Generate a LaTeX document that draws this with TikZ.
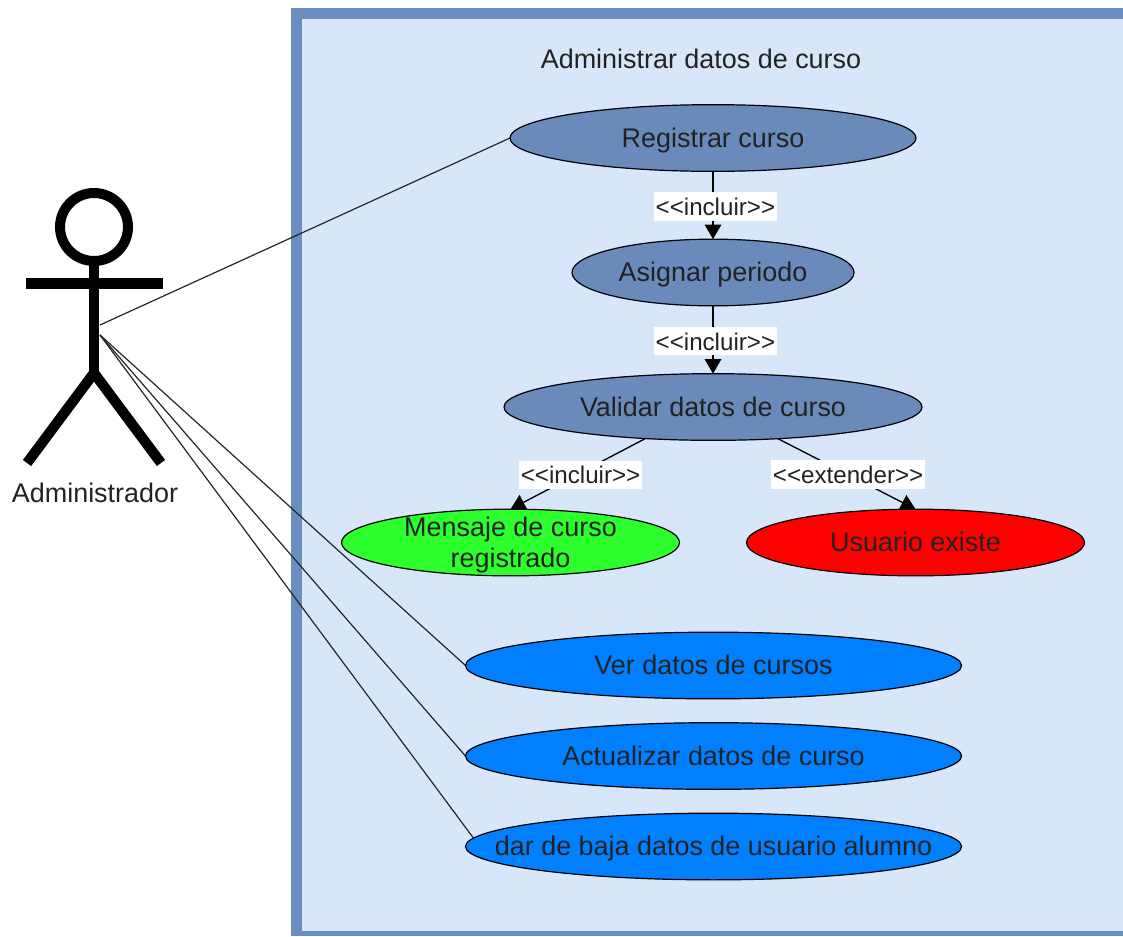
\documentclass[tikz,border=0pt]{standalone}
\usepackage{fontspec}
\setmainfont[Ligatures=NoCommon]{Liberation Sans}
\usetikzlibrary{arrows.meta,shapes.geometric}
\pgfdeclarelayer{back}
\pgfdeclarelayer{edges}
\pgfsetlayers{back,edges,main}
\definecolor{frameblue}{HTML}{6C8EBF}
\definecolor{framefill}{HTML}{D8E6F9}
\definecolor{usecase}{HTML}{6A8ABC}
\definecolor{ucblue}{HTML}{007FFF}
\definecolor{ucgreen}{HTML}{2CFF2C}
\definecolor{txt}{HTML}{222222}
\newcommand{\guil}[1]{\textless\kern0pt\textless #1\textgreater\kern0pt\textgreater}
\tikzset{
  x=0.75pt,y=-0.75pt,
  uc/.style={ellipse,draw=black,line width=0.9pt,inner xsep=-50pt,inner ysep=-25pt,outer sep=0pt,text=txt,font=\fontsize{20.2}{23.3}\selectfont,align=center,minimum height=50pt},
  ucone/.style={uc,text height=14.5pt,text depth=1pt},
  ucsmall/.style={ucone,fill=usecase},
  ucbig/.style={ucone,fill=ucblue,minimum width=372pt},
  limb/.style={line width=7.7pt,black},
  assoc/.style={draw=black!85,line width=0.9pt},
  incl/.style={draw=black,line width=1pt,-{Triangle[length=11pt,width=12.5pt]}},
  lbl/.style={fill=white,text=txt,inner xsep=1.5pt,inner ysep=0pt,text height=17.5pt,text depth=4pt,font=\fontsize{18.1}{21}\selectfont},
}
\begin{document}
\begin{tikzpicture}
\useasboundingbox (0,0) rectangle (1123,936);
\begin{pgfonlayer}{back}
\fill[white] (0,0) rectangle (1123,936);
\fill[frameblue] (291,8) rectangle (1123,936);
\fill[framefill] (302,19) rectangle (1123,930.5);
\end{pgfonlayer}
\node[text=txt,font=\fontsize{20.2}{23}\selectfont,text height=14.5pt,text depth=1pt,inner sep=0pt] (title) at (701,59) {Administrar datos de curso};
\node[ucsmall,minimum width=304.5pt] (reg) at (713,138) {Registrar curso};
\node[ucsmall,minimum width=211.5pt] (asi) at (713,272.5) {Asignar periodo};
\node[ucsmall,minimum width=313.5pt] (val) at (713,407) {Validar datos de curso};
\node[uc,fill=ucgreen,minimum width=253.5pt,text height=38pt,text depth=0.5pt] (men) at (510.5,542.5) {Mensaje de curso\\registrado};
\node[ucone,fill=red,minimum width=253.5pt] (usu) at (915.5,542.5) {Usuario existe};
\node[ucbig] (ver) at (713.5,665.5) {Ver datos de cursos};
\node[ucbig] (act) at (713.5,756) {Actualizar datos de curso};
\node[ucbig] (dar) at (713.5,846.5) {dar de baja datos de usuario alumno};
% actor
\coordinate (hip) at (94,373);
\coordinate (armL) at (26,283.5);
\coordinate (armR) at (163,283.5);
\coordinate (footL) at (27,463);
\coordinate (footR) at (161,463);
\coordinate (assocA) at (100,325);
\coordinate (assocB) at (100,335);
\node[circle,draw=black,line width=7.5pt,minimum size=51pt,inner sep=0pt,outer sep=0pt] (head) at (94,227) {};
\draw[limb] (head.south) -- (hip);
\draw[limb] (armL) -- (armR);
\draw[limb] (footL) -- (hip) -- (footR);
\node[text=txt,font=\fontsize{20.2}{24}\selectfont] (admin) at (95,493) {Administrador};
\begin{pgfonlayer}{edges}
\draw[assoc] (assocA) -- (reg.west);
\draw[assoc] (assocB) -- (ver.west);
\draw[assoc] (assocB) -- (act.west);
\draw[assoc] (assocB) -- (dar.178.4);
\draw[incl] (reg) -- node[lbl,pos=.52,xshift=1.8pt] (l1) {\guil{incluir}} (asi);
\draw[incl] (asi) -- node[lbl,pos=.52,xshift=1.8pt] (l2) {\guil{incluir}} (val);
\draw[incl] (val.205.5) -- node[lbl,pos=.515,xshift=3.5pt] (l3) {\guil{incluir}} (men.north);
\draw[incl] (val.334.5) -- node[lbl,pos=.51] (l4) {\guil{extender}} (usu.north);
\end{pgfonlayer}
\end{tikzpicture}
\end{document}
